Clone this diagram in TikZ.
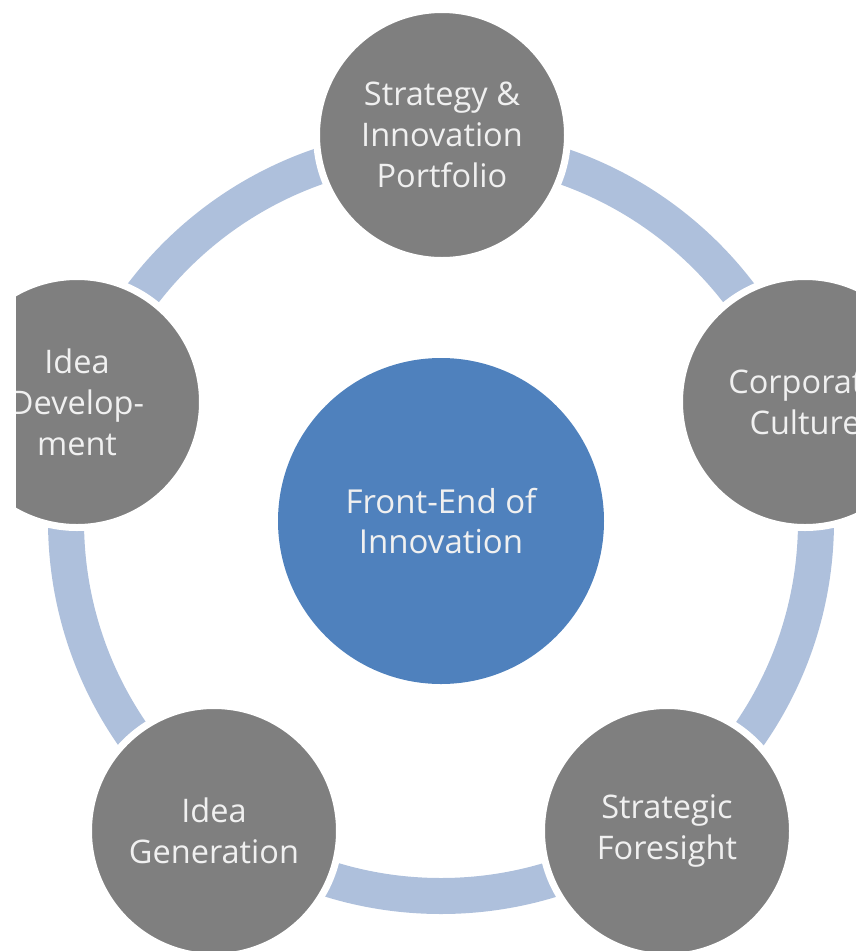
\documentclass[tikz,border=0pt]{standalone}
\usepackage{fontspec}
\setmainfont{Open Sans}
\definecolor{ringblue}{RGB}{174,192,220}
\definecolor{hubblue}{RGB}{79,129,189}
\definecolor{petalgray}{RGB}{127,127,127}
\definecolor{lighttext}{RGB}{240,240,240}
\begin{document}
\begin{tikzpicture}[x=1pt,y=-1pt,
  petal/.style={circle, fill=petalgray, draw=white, line width=7pt, minimum size=251pt,
    inner sep=0pt, text=lighttext, font=\fontsize{32.5}{41}\selectfont, align=center},
  hub/.style={circle, fill=hubblue, minimum size=326pt, inner sep=0pt,
    text=lighttext, font=\fontsize{33}{40}\selectfont, align=center},
  ringband/.style={draw=ringblue, line width=36pt}]
\useasboundingbox (0,0) rectangle (856,951);
\clip (16,0) rectangle (856,951);
\coordinate (ctr) at (441,521);
\draw[ringband] (ctr) circle[radius=375];
\node[hub] (hubnode) at (441,521) {Front-End of\\Innovation};
\node[petal] (top) at (442,135) {Strategy \&\\Innovation\\Portfolio};
\node[petal] (right) at (805,402) {Corporate\\Culture};
\node[petal] (botright) at (667,831) {Strategic\\Foresight};
\node[petal] (botleft) at (214,831) {Idea\\Generation};
\node[petal] (left) at (77,402) {Idea\\Develop-\\ment};
\end{tikzpicture}
\end{document}
